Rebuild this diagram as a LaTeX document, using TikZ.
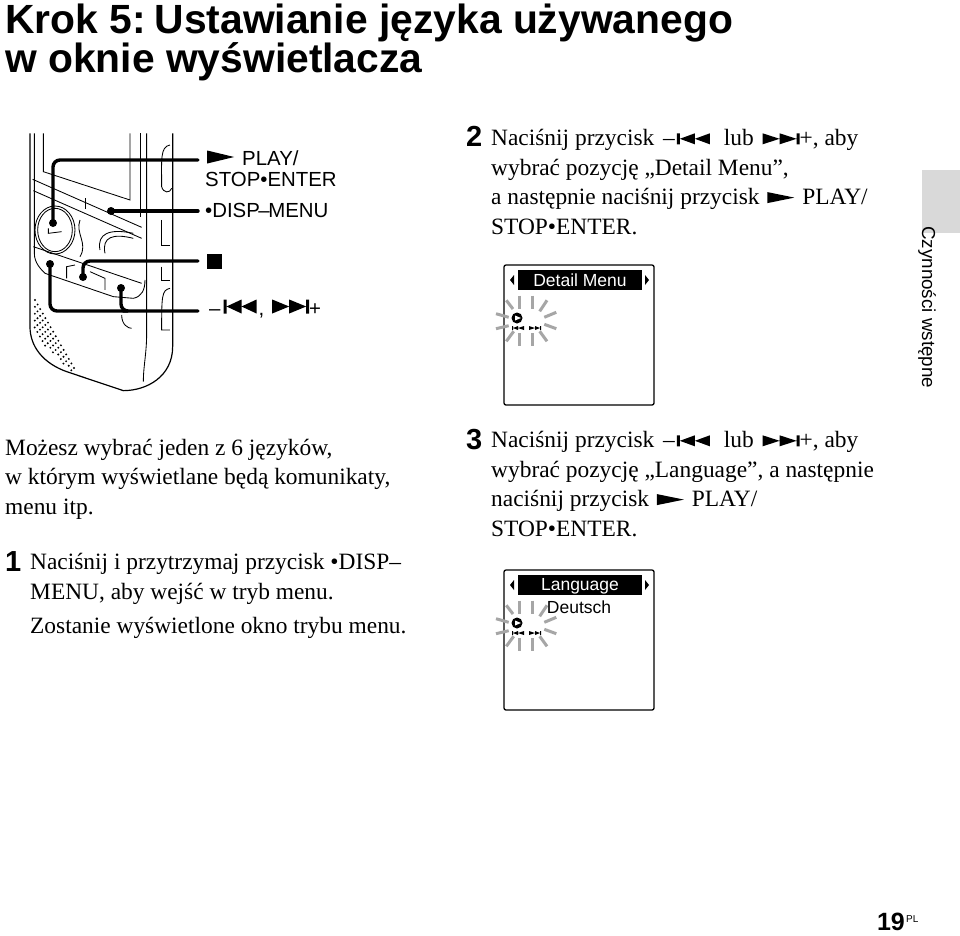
\documentclass[tikz,border=0pt]{standalone}
\usepackage{fontspec}
\setmainfont{Liberation Serif}
\setsansfont{Liberation Sans}
\newcommand{\prevsym}[1][11]{\tikz[x=1pt,y=1pt,baseline=-1.5pt]{\fill (0,0) rectangle (3,#1) (18,0) -- (18,#1) -- (3,#1/2) -- cycle (33,0) -- (33,#1) -- (18,#1/2) -- cycle;}}
\newcommand{\nextsym}[1][11]{\tikz[x=1pt,y=1pt,baseline=-1.5pt]{\fill (0,0) -- (0,#1) -- (17,#1/2) -- cycle (17,0) -- (17,#1) -- (34,#1/2) -- cycle (34,0) rectangle (37,#1);}}
\newcommand{\playsym}[1][11]{\tikz[x=1pt,y=1pt,baseline=-1.5pt]{\fill (0,0) -- (0,#1) -- (27,#1/2) -- cycle;}}
\tikzset{
  bodytext/.style={anchor=base west,inner sep=0pt,align=left,font=\fontsize{23.4}{29.4}\selectfont},
  titletext/.style={anchor=base west,inner sep=0pt,align=left,font=\fontsize{40.8}{39}\selectfont\sffamily\bfseries},
  stepnum/.style={anchor=base west,inner sep=0pt,font=\fontsize{29}{29}\selectfont\sffamily\bfseries},
  labeltext/.style={anchor=base west,inner sep=0pt,font=\fontsize{20.4}{20}\selectfont\sffamily},
  screentext/.style={inner sep=0pt,font=\fontsize{17.5}{18}\selectfont\sffamily},
  leader/.style={line width=3.4pt,line cap=round,rounded corners=7pt},
  devline/.style={line width=0.85pt},
  flashray/.style={line width=3pt,gray!70},
  screen/.pic={
    \draw[line width=1.3pt,rounded corners=2pt] (0,0) rectangle (150,140);
    \fill (14,5) rectangle (138,25);
    \fill (10,10) -- (10,20) -- (6,15) -- cycle;
    \fill (141,10) -- (141,20) -- (145,15) -- cycle;
    \foreach \xa/\ya/\xb/\yb in {-6.3/-25.3/-6.3/-12,6/-25.3/6/-12,21/-20.7/13.7/-9.7,30.3/-8.7/18.3/-3.7,
      30.3/7.7/18.3/3.3,21/20.3/13.7/10.3,6/12/6/25.3,-6.3/12/-6.3/25.3,
      -19.7/20.3/-12.3/10.3,-30/7.7/-17.3/4.7,-30/-7.3/-17.3/-3.7,-19.7/-20.7/-13/-12}
      \draw[flashray] (22+\xa,56+\ya) -- (22+\xb,56+\yb);
    \fill (13,53) circle (5.5);
    \fill[white] (11,50.5) -- (11,55.5) -- (17,53) -- cycle;
    \fill (8,61) rectangle (9,65) (14,61) -- (14,65) -- (9,63) -- cycle (20,61) -- (20,65) -- (14,63) -- cycle;
    \fill (25,61) -- (25,65) -- (31,63) -- cycle (31,61) -- (31,65) -- (36,63) -- cycle (36,61) rectangle (37,65);
  }
}
\begin{document}
\begin{tikzpicture}[x=1pt,y=-1pt]
  \useasboundingbox (0,0) rectangle (960,935);
  \fill[white] (0,0) rectangle (960,935);

  \node[titletext] (title) at (5,72) {Krok 5:\hspace{9pt}Ustawianie języka używanego\\w oknie wyświetlacza};

  \begin{scope}[shift={(0,120)},x=0.3333pt,y=-0.3333pt]
    \draw[line width=1.2pt] (90,40) -- (90,620) .. controls (90,680) and (130,730) .. (200,755) -- (370,812) .. controls (440,812) and (518,770) .. (518,680) -- (518,40);
    \draw[devline] (103,40) -- (103,400) .. controls (103,430) and (125,450) .. (135,460);
    \draw[devline] (130,40) -- (130,155) -- (390,240) -- (390,40);
    \draw[devline] (422,40) -- (422,290);
    \draw[devline] (440,40) -- (440,640) .. controls (440,700) and (430,740) .. (430,785);
    \draw[devline] (98,178) -- (425,322);
    \draw[devline] (100,212) -- (425,355);
    \draw[devline] (255,235) -- (255,268);
    \draw[devline] (100,380) -- (425,490);
    \draw[devline] (135,460) -- (340,530) -- (400,535) .. controls (425,530) and (435,510) .. (435,480);
    \draw[devline] (165,330) ellipse (52 and 65);
    \draw[devline] (165,330) ellipse (60 and 72);
    \draw[devline] (145,325) -- (145,340) -- (185,335);
    \draw[devline] (200,475) -- (200,440) -- (225,435);
    \draw[devline] (315,510) -- (315,475) -- (270,455);
    \draw[devline] (300,390) .. controls (290,340) and (330,325) .. (400,340);
    \draw[devline] (315,400) .. controls (305,350) and (340,340) .. (400,355);
    \draw[devline] (240,300) .. controls (225,340) and (265,370) .. (240,410);
    \draw[devline] (365,585) .. controls (365,615) and (385,625) .. (395,625);
    \draw[devline] (510,75) .. controls (480,80) and (485,120) .. (485,200) .. controls (490,220) and (510,220) .. (515,205);
    \draw[devline] (485,300) -- (485,375) -- (510,375);
    \draw[devline] (485,440) -- (485,480) -- (510,480);
    \draw[devline] (510,505) .. controls (485,510) and (485,530) .. (485,630) -- (510,630);
    \foreach \i in {0,...,15}
      \foreach \j in {0,...,4} {
        \pgfmathsetmacro{\dotx}{105+7.8*\i-8*\j}
        \pgfmathsetmacro{\doty}{540+13.6*\i+7*\j}
        \pgfmathparse{and(\dotx>97,\doty<640+\dotx-97)?1:0}
        \ifnum\pgfmathresult=1 \fill (\dotx,\doty) circle (3.2); \fi
      }
  \end{scope}

  \coordinate (playdot) at (53,223);
  \coordinate (dispdot) at (111,211);
  \coordinate (stopdot) at (83,277);
  \coordinate (prevdot) at (50,264);
  \coordinate (nextdot) at (121,288);
  \coordinate (playend) at (198,160);
  \coordinate (dispend) at (198,211);
  \coordinate (stopend) at (198,261);
  \coordinate (skipend) at (198,311);
  \coordinate (nextjoin) at (123,311);
  \draw[leader] (playend) -| (playdot);
  \draw[leader] (dispend) -- (dispdot);
  \draw[leader] (stopend) -| (stopdot);
  \draw[leader] (skipend) -| (prevdot);
  \draw[leader] (nextdot) |- (nextjoin);
  \foreach \d in {playdot,dispdot,stopdot,prevdot,nextdot}
    \fill (\d) circle (4);

  \node[labeltext] (playlabel) at (207,165) {\playsym[13]\hspace{8pt}PLAY/};
  \node[labeltext] (enterlabel) at (205,186) {STOP•ENTER};
  \node[labeltext] (displabel) at (205,217) {•DISP\hspace{-1.5pt}–\hspace{-1.5pt}MENU};
  \node[inner sep=0pt,minimum size=15pt,fill=black] (stoplabel) at (214.5,261.5) {};
  \node[labeltext] (skiplabel) at (209,315) {–\hspace{3pt}\prevsym[14]\hspace{2pt},\hspace{8pt}\nextsym[14]+};

  \node[stepnum] (numtwo) at (466,146) {2};
  \node[bodytext] (steptwo) at (491,234) {Naciśnij przycisk\hspace{3pt} –\hspace{2pt}\prevsym\hspace{14pt}lub\hspace{3pt} \nextsym+, aby\\wybrać pozycję „Detail Menu”,\\a następnie naciśnij przycisk\hspace{2pt} \playsym\hspace{2pt} PLAY/\\STOP•ENTER.};

  \path (504,265) pic {screen};
  \node[screentext,white] (detailmenu) at (580,280) {Detail Menu};

  \fill[gray!30] (922,170) rectangle (960,233);
  \node[inner sep=0pt,anchor=west,rotate=-90,font=\fontsize{18.8}{19}\selectfont\sffamily] (sidetab) at (927,226) {Czynności wstępne};

  \node[bodytext] (intro) at (5,514) {Możesz wybrać jeden z 6 języków,\\w którym wyświetlane będą komunikaty,\\menu itp.};
  \node[stepnum] (numone) at (5,571) {1};
  \node[bodytext] (stepone) at (30,599) {Naciśnij i przytrzymaj przycisk •DISP–\\MENU, aby wejść w tryb menu.};
  \node[bodytext] (result) at (30,633) {Zostanie wyświetlone okno trybu menu.};

  \node[stepnum] (numthree) at (466,449) {3};
  \node[bodytext] (stepthree) at (491,536) {Naciśnij przycisk\hspace{3pt} –\hspace{2pt}\prevsym\hspace{14pt}lub\hspace{3pt} \nextsym+, aby\\wybrać pozycję „Language”, a następnie\\naciśnij przycisk\hspace{2pt} \playsym\hspace{2pt} PLAY/\\STOP•ENTER.};

  \path (504,570) pic {screen};
  \node[screentext,white] (language) at (580,586) {Language};
  \node[screentext] (deutsch) at (579,607) {Deutsch};

  \node[anchor=base east,inner sep=0pt,font=\fontsize{25}{25}\selectfont\sffamily\bfseries] (pagenum) at (905,930) {19};
  \node[anchor=base west,inner sep=0pt,font=\fontsize{10}{10}\selectfont\sffamily] (pagelang) at (906,922) {PL};
\end{tikzpicture}
\end{document}
